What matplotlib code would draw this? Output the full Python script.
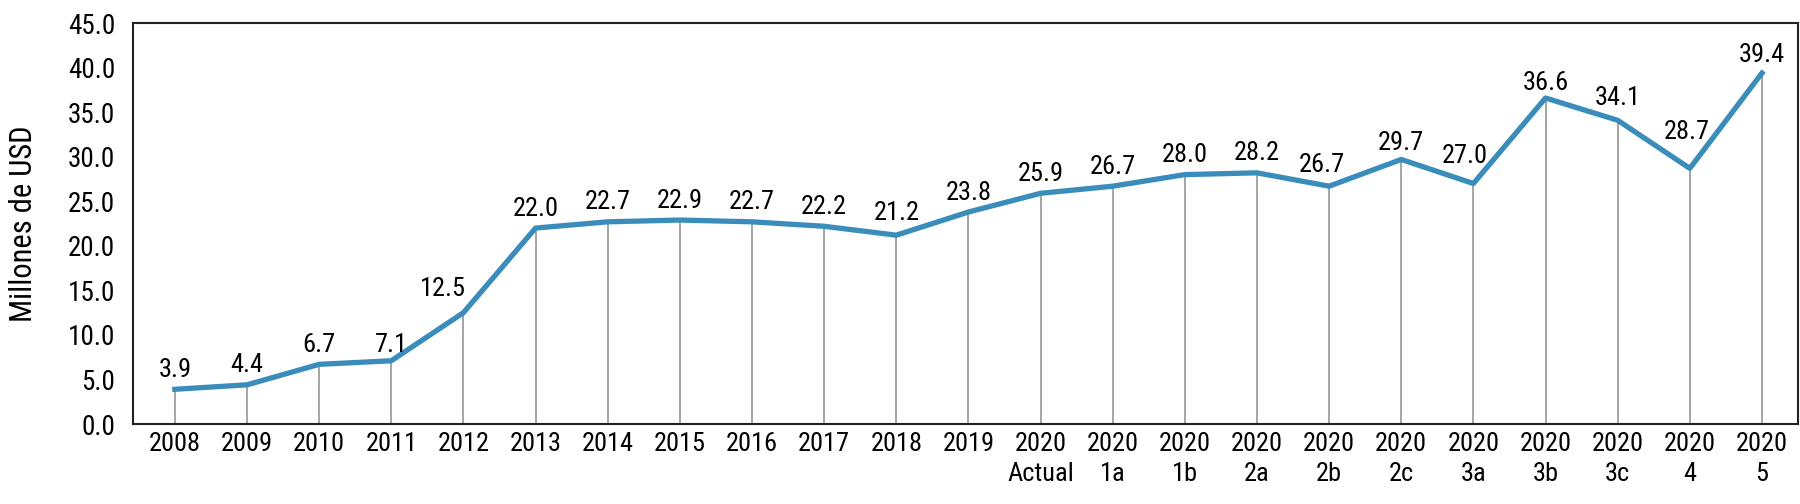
import matplotlib
matplotlib.use('Agg')
import matplotlib.pyplot as plt
import numpy as np

plt.rcParams['font.family'] = ['Roboto Condensed', 'Archivo Narrow', 'DejaVu Sans']

#datos
categorias = ['2008', '2009', '2010', '2011', '2012', '2013', '2014', '2015', '2016',
              '2017', '2018', '2019', '2020\nActual', '2020\n1a', '2020\n1b', '2020\n2a',
              '2020\n2b', '2020\n2c', '2020\n3a', '2020\n3b', '2020\n3c', '2020\n4', '2020\n5']
valores = [3.9, 4.4, 6.7, 7.1, 12.5, 22.0, 22.7, 22.9, 22.7, 22.2, 21.2, 23.8, 25.9,
           26.7, 28.0, 28.2, 26.7, 29.7, 27.0, 36.6, 34.1, 28.7, 39.4]
yticks = [0, 5, 10, 15, 20, 25, 30, 35, 40, 45]

x = np.arange(len(categorias))

#desplazamientos de etiquetas (puntos)
desp = {3: (0, 6), 4: (-15, 12), 10: (0, 11), 16: (-5, 10), 17: (0, 7), 18: (-6, 15),
        19: (0, 6), 20: (0, 11), 21: (-2, 21), 22: (0, 8)}

fig = plt.figure(figsize=(18, 5.04), dpi=100)
ax = fig.add_axes([0.0739, 0.1587, 0.925, 0.7953])

#lineas verticales
ax.vlines(x, 0, valores, color='#8c8c8c', lw=1.1, zorder=1)
ax.plot(x, valores, color='#3a8cbb', lw=3.8, solid_joinstyle='round', zorder=2)

for i, (xi, v) in enumerate(zip(x, valores)):
    ax.annotate(f'{v:.1f}', (xi, v), xytext=desp.get(i, (0, 9)), textcoords='offset points',
                ha='center', va='baseline', fontsize=19)

ax.set_xlim(-0.58, 22.5)
ax.set_ylim(0, 45)
ax.set_yticks(yticks)
ax.set_yticklabels([f'{t:.1f}' for t in yticks], fontsize=19.5)
ax.set_xticks(x)
ax.set_xticklabels(categorias, fontsize=19, linespacing=1.3)
ax.tick_params(axis='y', length=0, pad=13)
ax.tick_params(axis='x', length=0, pad=6)
ax.set_ylabel('Millones de USD', fontsize=22)
ax.yaxis.set_label_coords(-0.057, 0.5)
for s in ax.spines.values():
    s.set_linewidth(1.5)
    s.set_color('#222222')

fig.savefig('out.png', dpi=100)
